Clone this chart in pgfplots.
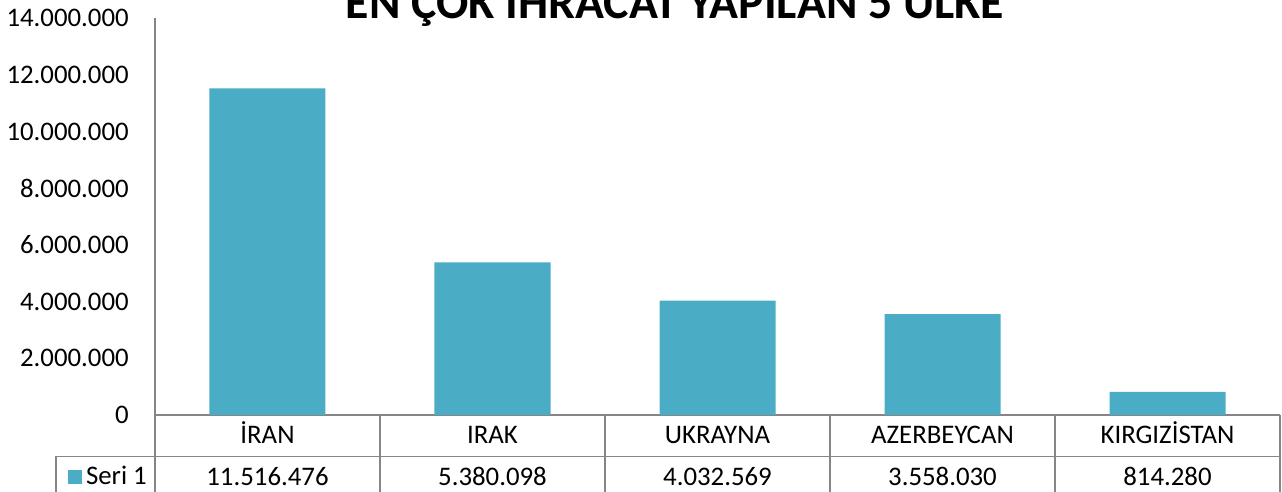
\documentclass[border=0pt]{standalone}
\usepackage{fontspec}
\setmainfont{Carlito}
\usepackage{pgfplots}
\pgfplotsset{compat=1.18}
\definecolor{barc}{HTML}{4BACC6}
\definecolor{axc}{HTML}{868686}
\begin{document}
\begin{tikzpicture}
\useasboundingbox (-77.5pt,-38.5pt) rectangle (563.5pt,207.5pt);
\begin{axis}[
  at={(0pt,0pt)}, anchor=south west,
  scale only axis, width=562.5pt, height=198.5pt,
  xmin=-0.5, xmax=4.5, ymin=0, ymax=14000000,
  axis x line=bottom, axis y line=left,
  axis line style={draw=axc, line width=0.9pt, -},
  major tick length=0pt,
  xtick={0,1,2,3,4},
  xticklabels={İRAN,IRAK,UKRAYNA,AZERBEYCAN,KIRGIZİSTAN},
  extra x ticks={0,1,2,3,4},
  extra x tick labels={11.516.476,5.380.098,4.032.569,3.558.030,814.280},
  extra x tick style={xticklabel style={yshift=-21.2pt}},
  xticklabel style={anchor=base, yshift=-14.3pt, font=\fontsize{13.4}{15}\selectfont},
  ytick={0,2000000,4000000,6000000,8000000,10000000,12000000,14000000},
  scaled y ticks=false,
  yticklabel style={xshift=-9.6pt, font=\fontsize{13.4}{15}\selectfont,
    /pgf/number format/.cd, fixed, 1000 sep={.}, assume math mode=true},
  ybar, bar width=58pt,
  legend style={at={(-0.0405,-0.156)}, anchor=center, draw=none, fill=none,
    font=\fontsize{13.4}{15}\selectfont, inner sep=0pt,
    legend cell align=left},
  legend image code/.code={\fill[barc] (0pt,-3.5pt) rectangle (7pt,3.5pt);},
  clip=false,
]
\addplot[fill=barc, draw=none] coordinates {(0,11516476) (1,5380098) (2,4032569) (3,3558030) (4,814280)};
\addlegendentry{Seri 1}
\end{axis}
\begin{scope}[draw=axc, line width=0.9pt]
\draw (-49.5pt,-20.75pt) -- (562.5pt,-20.75pt);
\draw (-49.5pt,-20.75pt) -- (-49.5pt,-45pt);
\foreach \x in {0,112.5,225,337.5,450,562.5} \draw (\x pt,0pt) -- (\x pt,-45pt);
\end{scope}
\node[anchor=base, font=\bfseries\fontsize{23.9}{28}\selectfont, inner sep=0pt] at (260pt,198pt) {EN ÇOK İHRACAT YAPILAN 5 ÜLKE};
\end{tikzpicture}
\end{document}
